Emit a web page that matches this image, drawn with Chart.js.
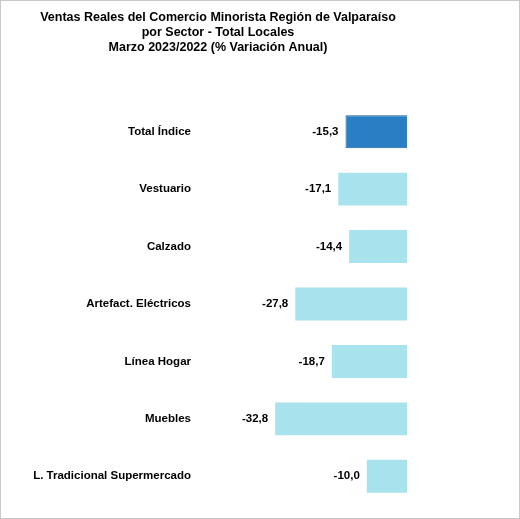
<!DOCTYPE html>
<html><head><meta charset="utf-8">
<script src="https://cdn.jsdelivr.net/npm/chart.js@4"></script>
<style>html,body{margin:0;padding:0;background:#fff}#w{width:518px;height:517px;border:1px solid #c8c8c8}</style>
</head><body><div id="w"><canvas id="c"></canvas></div>
<script>
const categories=["Total Índice","Vestuario","Calzado","Artefact. Eléctricos","Línea Hogar","Muebles","L. Tradicional Supermercado"];
const values=[-15.3,-17.1,-14.4,-27.8,-18.7,-32.8,-10.0];
const titleLines=["Ventas Reales del Comercio Minorista Región de Valparaíso","por Sector - Total Locales","Marzo 2023/2022 (% Variación Anual)"];
const colors=values.map((v,i)=>i===0?'#2a7fc4':'#a8e2ec');
const labelPlugin={id:'lbl',afterDatasetsDraw(ch){const ctx=ch.ctx;const m=ch.getDatasetMeta(0);ctx.save();ctx.font='bold 11.5px "Liberation Sans", Arial';ctx.fillStyle='#000';ctx.textAlign='right';ctx.textBaseline='middle';m.data.forEach((b,i)=>{ctx.fillText(values[i].toFixed(1).replace('.',','),b.x-7,b.y);});ctx.restore();}};
new Chart(document.getElementById('c'),{type:'bar',data:{labels:categories,datasets:[{data:values,backgroundColor:colors,borderColor:values.map((v,i)=>i===0?'#1f5f99':'transparent'),borderWidth:values.map((v,i)=>i===0?1:0),categoryPercentage:1,barPercentage:0.574}]},
options:{indexAxis:'y',responsive:true,maintainAspectRatio:false,animation:false,
layout:{padding:{left:28,right:112,bottom:13,top:0}},
plugins:{legend:{display:false},tooltip:{enabled:false},title:{display:true,text:titleLines,color:'#000',font:{family:'"Liberation Sans", Arial',size:12.5,weight:'bold'},lineHeight:1.45,padding:{top:9,bottom:48}}},
scales:{x:{min:-51.5,max:0,display:false},y:{grid:{display:false},border:{display:false},ticks:{color:'#000',padding:1,font:{family:'"Liberation Sans", Arial',size:11.5,weight:'bold'}},afterFit(s){s.width=171;}}}},
plugins:[labelPlugin]});
</script></body></html>
